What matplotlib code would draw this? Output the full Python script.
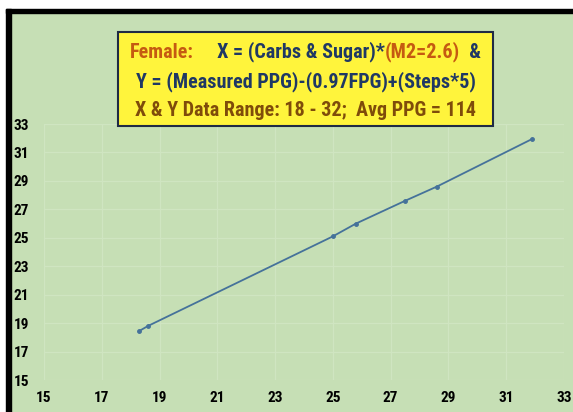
import matplotlib
matplotlib.use('Agg')
import matplotlib.pyplot as plt
from matplotlib import font_manager
from matplotlib.patches import Rectangle

# values
x_vals = [18.3, 18.6, 25.0, 25.8, 27.5, 28.6, 31.9]
y_vals = [18.45, 18.8, 25.1, 26.0, 27.6, 28.6, 31.95]
ticks = [15, 17, 19, 21, 23, 25, 27, 29, 31, 33]

title_lines = [
    [('Female:', '#c55a11'), ('     X = (Carbs & Sugar)*', '#1f3864'),
     ('(M2=2.6)', '#c55a11'), ('  &', '#1f3864')],
    [('Y = (Measured PPG)-(0.97FPG)+(Steps*5)', '#1f3864')],
    [('X & Y Data Range: 18 - 32;  Avg PPG = 114', '#7f4c0a')],
]

green = '#c6dfb5'
W, H = 573, 412


def narrow_font():
    # pick a narrow bold face if one is installed
    for fam, st in [('Liberation Sans Narrow', 'normal'), ('Roboto Condensed', 'normal'),
                    ('Open Sans Condensed', 'normal'), ('DejaVu Sans', 'condensed')]:
        try:
            fp = font_manager.FontProperties(family=fam, stretch=st, weight='bold')
            path = font_manager.findfont(fp, fallback_to_default=False)
            if fam.split()[0].lower() in path.lower().replace('-', ' ') and \
                    (st == 'normal' or 'ondensed' in path):
                return dict(family=fam, stretch=st)
        except Exception:
            pass
    return dict(family='Liberation Sans', stretch='normal')


nf = narrow_font()

fig = plt.figure(figsize=(W / 100, H / 100), dpi=100)
fig.patch.set_facecolor(green)

# white strip on top / left and black frame
fig.add_artist(Rectangle((0, 1 - 9 / H), 1, 9 / H, transform=fig.transFigure,
                         color='white', zorder=0))
fig.add_artist(Rectangle((0, 0), 6 / W, 1, transform=fig.transFigure,
                         color='white', zorder=0))
fig.add_artist(Rectangle((6 / W, 1 - 13 / H), 1, 4 / H, transform=fig.transFigure,
                         color='black', zorder=1))
fig.add_artist(Rectangle((6 / W, 0), 5 / W, 1 - 9 / H, transform=fig.transFigure,
                         color='black', zorder=1))

ax = fig.add_axes([44 / W, 32 / H, 520 / W, 256 / H])
ax.set_facecolor(green)
ax.plot(x_vals, y_vals, color='#45729a', lw=1.3, marker='o', ms=2.5)
ax.set_xlim(15, 33)
ax.set_ylim(15, 33)
ax.set_xticks(ticks)
ax.set_yticks(ticks)
ax.grid(True, color='#cfe5c1', lw=0.9)
ax.set_axisbelow(True)
for s in ax.spines.values():
    s.set_visible(False)

tick_fp = font_manager.FontProperties(weight='bold', size=11, **nf)
ax.tick_params(length=0)
ax.tick_params(axis='x', pad=8)
ax.tick_params(axis='y', pad=22)
for lab in ax.get_xticklabels() + ax.get_yticklabels():
    lab.set_fontproperties(tick_fp)
    lab.set_color('black')
for lab in ax.get_yticklabels():
    lab.set_horizontalalignment('left')

# title box
fig.add_artist(Rectangle((118 / W, 1 - 126 / H), 375 / W, 94 / H,
                         transform=fig.transFigure, facecolor='#fff43c',
                         edgecolor='#1f2a44', lw=1.5, zorder=3))

renderer = fig.canvas.get_renderer()
title_font = dict(weight='bold', **nf)
# scale the font so the second line spans about 344 px
probe = fig.text(0, 0, title_lines[1][0][0], fontsize=13, **title_font)
size = min(14.5, 13 * 344 / probe.get_window_extent(renderer).width)
probe.remove()

centers_y = [52, 82, 110]
for line, cy in zip(title_lines, centers_y):
    pieces = []
    for txt, col in line:
        t = fig.text(0, 1 - cy / H, txt, fontsize=size, color=col, va='center',
                     ha='left', zorder=4, **title_font)
        pieces.append(t)
    widths = [p.get_window_extent(renderer).width for p in pieces]
    x = 305.5 - sum(widths) / 2
    for p, w in zip(pieces, widths):
        p.set_x(x / W)
        x += w

fig.savefig('out.png', dpi=100, facecolor=fig.get_facecolor())
